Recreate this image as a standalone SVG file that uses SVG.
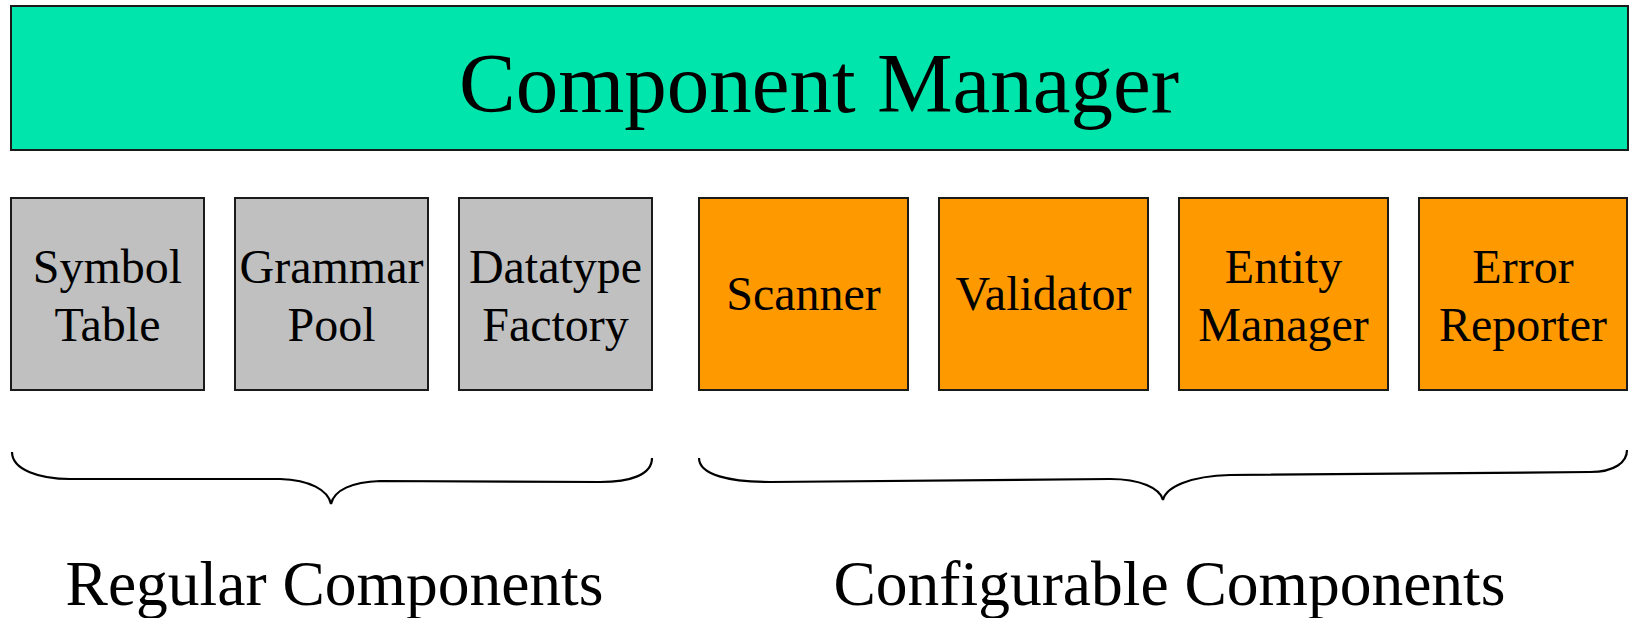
<svg xmlns="http://www.w3.org/2000/svg" width="1632" height="618" viewBox="0 0 1632 618">
<style>
.box{stroke:#1a1a1a;stroke-width:2}
.mgr{fill:#00E5AB}
.reg{fill:#C0C0C0}
.cfg{fill:#FF9900}
text{font-family:"Liberation Serif","Times New Roman",serif;fill:#000;text-anchor:middle}
.t48{font-size:48px}
.brace{fill:none;stroke:#000;stroke-width:2.2}
</style>
<rect width="1632" height="618" fill="#fff"/>
<g id="component-manager">
<rect class="box mgr" x="11" y="6" width="1617" height="144"/>
<text x="819" y="112" font-size="85">Component Manager</text>
</g>
<g id="symbol-table">
<rect class="box reg" x="11" y="198" width="193" height="192"/>
<text class="t48" x="107.5" y="283">Symbol</text>
<text class="t48" x="107.5" y="341">Table</text>
</g>
<g id="grammar-pool">
<rect class="box reg" x="235" y="198" width="193" height="192"/>
<text class="t48" x="331.5" y="283">Grammar</text>
<text class="t48" x="331.5" y="341">Pool</text>
</g>
<g id="datatype-factory">
<rect class="box reg" x="459" y="198" width="193" height="192"/>
<text class="t48" x="555.5" y="283">Datatype</text>
<text class="t48" x="555.5" y="341">Factory</text>
</g>
<g id="scanner">
<rect class="box cfg" x="699" y="198" width="209" height="192"/>
<text class="t48" x="803.5" y="310">Scanner</text>
</g>
<g id="validator">
<rect class="box cfg" x="939" y="198" width="209" height="192"/>
<text class="t48" x="1043.5" y="310">Validator</text>
</g>
<g id="entity-manager">
<rect class="box cfg" x="1179" y="198" width="209" height="192"/>
<text class="t48" x="1283.5" y="283">Entity</text>
<text class="t48" x="1283.5" y="341">Manager</text>
</g>
<g id="error-reporter">
<rect class="box cfg" x="1419" y="198" width="208" height="192"/>
<text class="t48" x="1523" y="283">Error</text>
<text class="t48" x="1523" y="341">Reporter</text>
</g>
<g id="connectors">
<path class="brace" d="M12,452 C12,470 40,479 70,479 L280,479 C310,480 328,490 331,504 C334,490 352,482 380,481 L600,482 C630,482 652,475 652,458"/>
<path class="brace" d="M699,458 C699,475 730,482 770,482 L1110,479 C1140,479 1160,488 1163,500 C1166,487 1190,476 1230,475 L1590,472 C1615,472 1627,462 1627,450"/>
</g>
<g id="group-labels">
<text x="334.5" y="605" font-size="63.5">Regular Components</text>
<text x="1169.5" y="605" font-size="63.5">Configurable Components</text>
</g>
</svg>
